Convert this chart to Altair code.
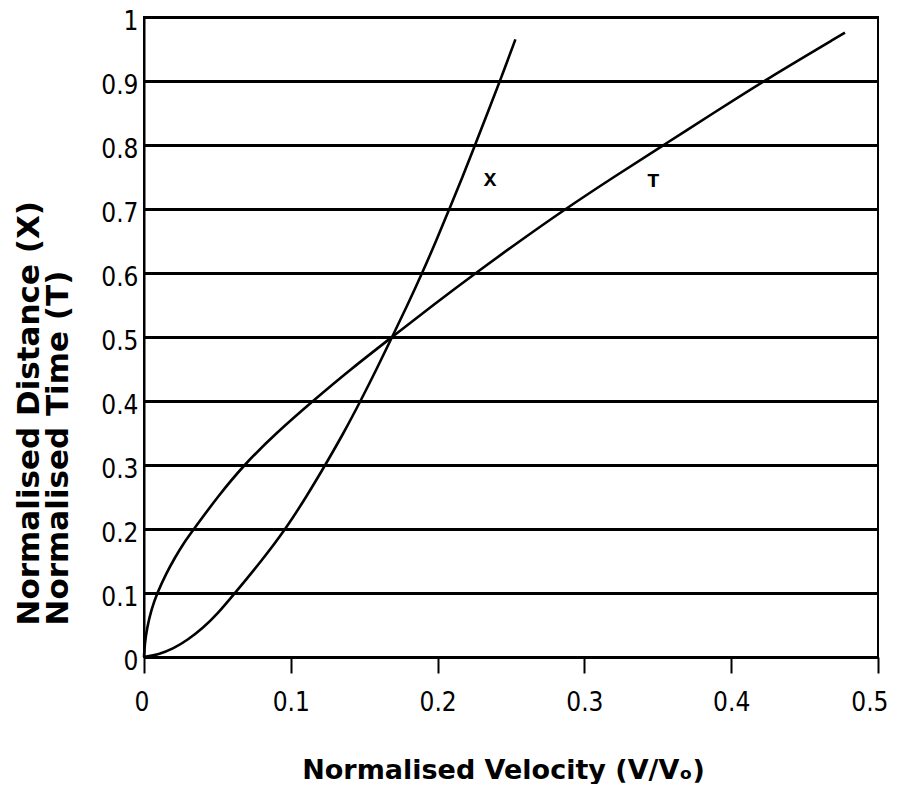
import altair as alt
import pandas as pd

# Normalised Time (T) curve
t_v = [0.0, 0.0005, 0.002, 0.005, 0.009, 0.015, 0.021, 0.027, 0.034, 0.05, 0.068, 0.09,
       0.115, 0.141, 0.169, 0.197, 0.226, 0.256, 0.287, 0.32, 0.354, 0.388, 0.422, 0.4775]
t_y = [0.0, 0.02, 0.045, 0.074, 0.1, 0.13, 0.155, 0.178, 0.2, 0.25, 0.3, 0.35,
       0.4, 0.45, 0.5, 0.55, 0.6, 0.65, 0.7, 0.75, 0.8, 0.85, 0.9, 0.9755]

# Normalised Distance (X) curve
x_v = [0.0, 0.01, 0.02, 0.03, 0.04, 0.05, 0.062, 0.080, 0.0965, 0.1105, 0.1235, 0.136,
       0.1475, 0.1585, 0.169, 0.1795, 0.1895, 0.199, 0.208, 0.217, 0.2255, 0.234, 0.2425, 0.253]
x_y = [0.0, 0.004, 0.013, 0.027, 0.045, 0.067, 0.1, 0.15, 0.2, 0.25, 0.3, 0.35,
       0.4, 0.45, 0.5, 0.55, 0.6, 0.65, 0.7, 0.75, 0.8, 0.85, 0.9, 0.965]

label_text = ["X", "T"]
label_v = [0.2357, 0.347]
label_y = [0.745, 0.743]

x_ticks = [0, 0.1, 0.2, 0.3, 0.4, 0.5]
y_ticks = [0, 0.1, 0.2, 0.3, 0.4, 0.5, 0.6, 0.7, 0.8, 0.9, 1]

curves = pd.concat([
    pd.DataFrame({"v": t_v, "y": t_y, "curve": "T", "order": list(range(len(t_v)))}),
    pd.DataFrame({"v": x_v, "y": x_y, "curve": "X", "order": list(range(len(x_v)))}),
])
labels_df = pd.DataFrame({"v": label_v, "y": label_y, "label": label_text})

tick_font = "Liberation Sans Narrow, DejaVu Sans Condensed, sans-serif"
title_font = "DejaVu Sans"

x_scale = alt.Scale(domain=[0, 0.5], nice=False, zero=False)
y_scale = alt.Scale(domain=[0, 1], nice=False, zero=False)

x_axis = alt.Axis(
    values=x_ticks, format="~g", grid=False,
    domainColor="black", domainWidth=3,
    tickColor="black", tickWidth=2, tickSize=16,
    labelFont=tick_font, labelFontSize=26, labelColor="black",
    labelPadding=16, labelFlush=True, labelFlushOffset=10, labelOverlap=False,
    title="Normalised Velocity (V/V\u2092)",
    titleFont=title_font, titleFontWeight="bold", titleFontSize=27, titleColor="black",
    titleX=359, titleY=121, titleAlign="center", titleBaseline="alphabetic", titleAngle=0,
)
y_axis = alt.Axis(
    values=y_ticks, format="~g", grid=True,
    gridColor="black", gridWidth=3, gridOpacity=1,
    domainColor="black", domainWidth=2,
    ticks=False, tickSize=0,
    labelFont=tick_font, labelFontSize=26, labelColor="black",
    labelPadding=6, labelFlush=False, labelOverlap=False, labelOffset=4,
    labelBaseline="middle",
    title=["Normalised Distance (X)", "Normalised Time (T)"],
    titleFont=title_font, titleFontWeight="bold", titleFontSize=31, titleColor="black",
    titleAngle=270, titleAlign="left", titleBaseline="alphabetic",
    titleX=-106, titleY=608, titleLineHeight=29,
)

lines = alt.Chart(curves).mark_line(
    color="black", strokeWidth=2.6, interpolate="basis"
).encode(
    x=alt.X("v:Q", scale=x_scale, axis=x_axis),
    y=alt.Y("y:Q", scale=y_scale, axis=y_axis),
    detail="curve:N",
    order="order:Q",
)

labels = alt.Chart(labels_df).mark_text(
    font="Liberation Mono, DejaVu Sans Mono, monospace", fontWeight="bold",
    fontSize=21, color="black"
).encode(
    x=alt.X("v:Q", scale=x_scale),
    y=alt.Y("y:Q", scale=y_scale),
    text="label:N",
)

chart = alt.layer(lines, labels).properties(
    width=734, height=640,
    autosize=alt.AutoSizeParams(type="none"),
    padding={"left": 136, "top": 9, "right": 12, "bottom": 127},
    background="white",
).configure_view(stroke="black", strokeWidth=2)

chart.save("out.html", embed_options={"renderer": "svg", "actions": False})
